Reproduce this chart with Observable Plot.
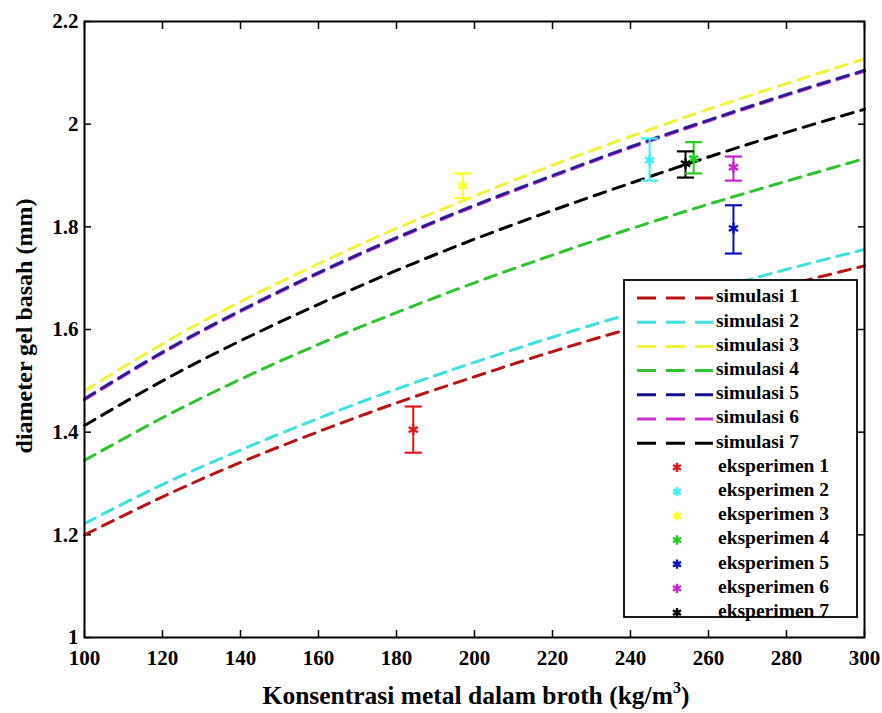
<!DOCTYPE html>
<html>
<head>
<meta charset="utf-8">
<script src="https://cdn.jsdelivr.net/npm/d3@7"></script>
<script src="https://cdn.jsdelivr.net/npm/@observablehq/plot@0.6"></script>
<style>
  html, body { margin: 0; padding: 0; background: #fff; }
  #chart { width: 882px; height: 713px; }
</style>
</head>
<body>
<div id="chart"></div>
<script>
// ---- data ----
const xs   = [100, 120, 140, 160, 180, 200, 220, 240, 260, 280, 300];
const sim1 = [1.200, 1.274, 1.341, 1.401, 1.457, 1.508, 1.557, 1.602, 1.645, 1.686, 1.724];
const sim2 = [1.222, 1.298, 1.365, 1.427, 1.484, 1.536, 1.585, 1.631, 1.675, 1.717, 1.756];
const sim3 = [1.480, 1.572, 1.654, 1.728, 1.797, 1.860, 1.920, 1.976, 2.029, 2.079, 2.127];
const sim4 = [1.345, 1.428, 1.503, 1.571, 1.633, 1.691, 1.745, 1.796, 1.844, 1.889, 1.933];
const sim5 = [1.465, 1.556, 1.637, 1.711, 1.779, 1.842, 1.900, 1.956, 2.008, 2.058, 2.105];
const sim6 = [1.463, 1.554, 1.635, 1.709, 1.777, 1.840, 1.898, 1.954, 2.006, 2.056, 2.103];
const sim7 = [1.413, 1.500, 1.578, 1.649, 1.715, 1.776, 1.832, 1.885, 1.936, 1.984, 2.029];

const simLabels = ["simulasi 1", "simulasi 2", "simulasi 3", "simulasi 4", "simulasi 5", "simulasi 6", "simulasi 7"];
const simColors = ["#b81414", "#3fe0e0", "#f2f23a", "#2fc42f", "#10108a", "#cc33cc", "#000000"];

const expLabels = ["eksperimen 1", "eksperimen 2", "eksperimen 3", "eksperimen 4", "eksperimen 5", "eksperimen 6", "eksperimen 7"];
const expColors = ["#e01818", "#40f0f0", "#ffff20", "#22d022", "#0a10c0", "#cc22cc", "#000000"];
const expX  = [184.3, 244.9, 197.0, 256.2, 266.4, 266.4, 254.1];
const expY  = [1.405, 1.930, 1.880, 1.933, 1.797, 1.916, 1.923];
const expLo = [1.360, 1.890, 1.856, 1.904, 1.748, 1.890, 1.896];
const expHi = [1.450, 1.972, 1.904, 1.965, 1.842, 1.937, 1.947];

const xTicks = [100, 120, 140, 160, 180, 200, 220, 240, 260, 280, 300];
const yTicks = [1, 1.2, 1.4, 1.6, 1.8, 2, 2.2];

// ---- tables built from the arrays ----
const sims = [sim1, sim2, sim3, sim4, sim5, sim6, sim7];
const simRows = [];
// draw order: magenta under navy so the pair looks purple
const drawOrder = [0, 1, 2, 3, 5, 4, 6];
drawOrder.forEach(i => xs.forEach((x, j) => simRows.push({x, y: sims[i][j], s: simLabels[i], c: simColors[i], k: i})));
const expRows = expX.map((x, i) => ({x, y: expY[i], lo: expLo[i], hi: expHi[i], c: expColors[i], s: expLabels[i]}));
const capHalf = 2.2; // half cap width in x units

const font = "'Liberation Serif', 'Times New Roman', serif";

const plot = Plot.plot({
  width: 882,
  height: 713,
  marginLeft: 84,
  marginRight: 18,
  marginTop: 21,
  marginBottom: 76,
  style: {fontFamily: font, fontSize: "21px", fontWeight: "bold", color: "#000", background: "#fff"},
  x: {domain: [100, 300]},
  y: {domain: [1, 2.2]},
  marks: [
    Plot.axisX({ticks: xTicks, tickSize: -7, tickPadding: 20, fontSize: 21, fontWeight: "bold", tickFormat: d => String(d), label: null, strokeWidth: 1.5}),
    Plot.axisX({anchor: "top", ticks: xTicks, tickSize: -7, tickFormat: () => "", label: null, strokeWidth: 1.5}),
    Plot.axisY({ticks: yTicks, tickSize: -7, tickPadding: 13, fontSize: 21, fontWeight: "bold", tickFormat: d => String(d), label: null, strokeWidth: 1.5}),
    Plot.axisY({anchor: "right", ticks: yTicks, tickSize: -7, tickFormat: () => "", label: null, strokeWidth: 1.5}),
    Plot.line(simRows, {x: "x", y: "y", z: "s", stroke: "c", strokeWidth: 3, strokeDasharray: "12,8", curve: "natural",
      strokeOpacity: d => d.k === 4 ? 0.85 : 1}),
    Plot.ruleX(expRows, {x: "x", y1: "lo", y2: "hi", stroke: "c", strokeWidth: 2}),
    Plot.link(expRows, {x1: d => d.x - capHalf, x2: d => d.x + capHalf, y1: "lo", y2: "lo", stroke: "c", strokeWidth: 2.2}),
    Plot.link(expRows, {x1: d => d.x - capHalf, x2: d => d.x + capHalf, y1: "hi", y2: "hi", stroke: "c", strokeWidth: 2.2}),
    Plot.dot(expRows, {x: "x", y: "y", symbol: "asterisk", r: 5, stroke: "c", strokeWidth: 2.4}),
    Plot.frame({stroke: "#000", strokeWidth: 2})
  ]
});

plot.setAttribute("font-family", font);
document.getElementById("chart").appendChild(plot);

// ---- axis labels & legend ----
const svg = d3.select(plot);
svg.append("text")
  .attr("transform", "translate(26,326) rotate(-90)")
  .attr("text-anchor", "middle")
  .attr("dominant-baseline", "middle")
  .style("font-family", font).style("font-size", "24px").style("font-weight", "bold")
  .text("diameter gel basah (mm)");

const xl = svg.append("text")
  .attr("x", 476).attr("y", 704)
  .attr("text-anchor", "middle")
  .style("font-family", font).style("font-size", "25.5px").style("font-weight", "bold");
xl.append("tspan").text("Konsentrasi metal dalam broth (kg/m");
xl.append("tspan").attr("dy", -11).style("font-size", "16px").text("3");
xl.append("tspan").attr("dy", 11).text(")");

const lg = svg.append("g").style("font-family", font).style("font-size", "19.5px").style("font-weight", "bold");
const lx = 624, ly = 280, lw = 233, lh = 337, rowH = 24.2, first = 298;
lg.append("rect").attr("x", lx).attr("y", ly).attr("width", lw).attr("height", lh)
  .attr("fill", "#fff").attr("stroke", "#000").attr("stroke-width", 1.8);
simLabels.forEach((s, i) => {
  const yy = first + i * rowH;
  lg.append("line").attr("x1", 637).attr("x2", 713).attr("y1", yy).attr("y2", yy)
    .attr("stroke", simColors[i]).attr("stroke-width", 3).attr("stroke-dasharray", "19,10");
  lg.append("text").attr("x", 716).attr("y", yy).attr("text-anchor", "start").attr("dominant-baseline", "middle").text(s);
});
const asterisk = d3.symbol(d3.symbolAsterisk, 60);
expLabels.forEach((s, i) => {
  const yy = first + (i + 7) * rowH;
  lg.append("path").attr("d", asterisk()).attr("transform", `translate(677,${yy})`)
    .attr("stroke", expColors[i]).attr("stroke-width", 2.4).attr("fill", "none");
  lg.append("text").attr("x", 718).attr("y", yy).attr("text-anchor", "start").attr("dominant-baseline", "middle").text(s);
});
</script>
</body>
</html>
